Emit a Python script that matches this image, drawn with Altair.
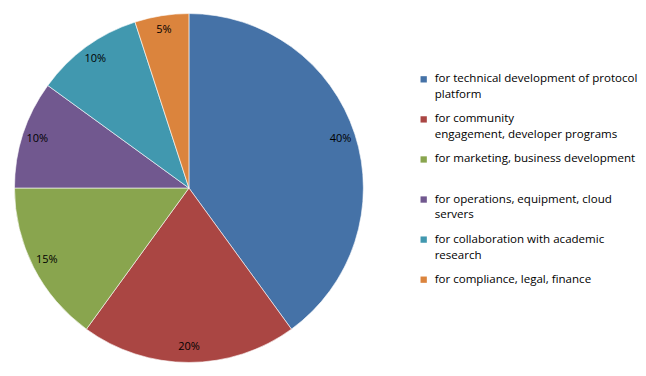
import altair as alt
import pandas as pd

categories = [
    "for technical development of protocol platform",
    "for community engagement, developer programs",
    "for marketing, business development",
    "for operations, equipment, cloud servers",
    "for collaboration with academic research",
    "for compliance, legal, finance",
]
values = [40, 20, 15, 10, 10, 5]
colors = ["#4572A7", "#AA4643", "#89A54E", "#71588F", "#4198AF", "#DB843D"]
legend_lines = [
    ["for technical development of protocol", "platform"],
    ["for community", "engagement, developer programs"],
    ["for marketing, business development"],
    ["for operations, equipment, cloud", "servers"],
    ["for collaboration with academic", "research"],
    ["for compliance, legal, finance"],
]

FONT = "Open Sans"

pie_df = pd.DataFrame({"category": categories, "value": values, "order": range(len(values))})
color_scale = alt.Scale(domain=categories, range=colors)

base = alt.Chart(pie_df).encode(
    theta=alt.Theta("value:Q", stack=True),
    order=alt.Order("order:Q"),
)
arcs = base.mark_arc(outerRadius=175, stroke="#ffffff", strokeWidth=0.6).encode(
    color=alt.Color("category:N", scale=color_scale, legend=None)
)
labels = base.transform_calculate(label="datum.value + '%'").mark_text(
    radius=160, font=FONT, fontSize=11, color="#000000"
).encode(text="label:N")
pie = alt.layer(arcs, labels).properties(width=363, height=360)

rows = []
for i, (cat, lines) in enumerate(zip(categories, legend_lines)):
    for j, t in enumerate(lines):
        rows.append({"category": cat, "entry": i, "line": j, "text": t})
leg_df = pd.DataFrame(rows)
leg_df["pos"] = leg_df["entry"] + leg_df["line"] * 0.398

yscale = alt.Scale(domain=[-1.766, 7.19], reverse=True)
leg_base = alt.Chart(leg_df).encode(
    y=alt.Y("pos:Q", scale=yscale, axis=None)
)
squares = leg_base.transform_filter("datum.line == 0").mark_square(size=40, opacity=1).encode(
    x=alt.value(5),
    color=alt.Color("category:N", scale=color_scale, legend=None),
)
texts = leg_base.mark_text(align="left", baseline="middle", font=FONT, fontSize=11.6, color="#000000").encode(
    x=alt.value(16),
    text="text:N",
)
legend = alt.layer(squares, texts).properties(width=220, height=360)

chart = alt.hconcat(pie, legend, spacing=49).properties(padding=0).configure_view(stroke=None)
chart.save("out.html", embed_options={"renderer": "svg", "actions": False})
